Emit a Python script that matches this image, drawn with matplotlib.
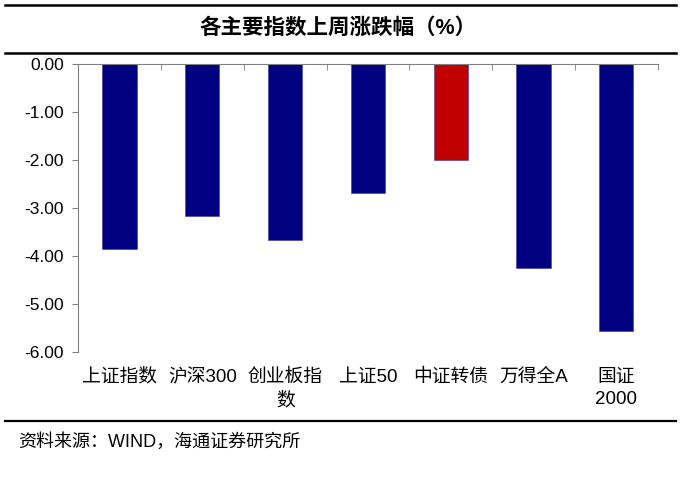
import numpy as np
import matplotlib
matplotlib.use('Agg')
from matplotlib import pyplot as plt
from matplotlib.lines import Line2D

plt.rcParams['font.family'] = ['Liberation Sans', 'Noto Sans CJK SC']
plt.rcParams['axes.unicode_minus'] = False

# data
categories = ['上证指数', '沪深300', '创业板指\n数', '上证50', '中证转债', '万得全A', '国证\n2000']
changes = [-3.85, -3.18, -3.68, -2.69, -2.00, -4.26, -5.57]
bar_colors = ['#000080', '#000080', '#000080', '#000080', '#C00000', '#000080', '#000080']
yticks = [0, -1, -2, -3, -4, -5, -6]

fig = plt.figure(figsize=(6.81, 4.82), dpi=100)
ax = fig.add_axes([78.1 / 681, 1 - 351.7 / 482, 579.6 / 681, 287.7 / 482])

x = np.arange(len(categories))
ax.bar(x, changes, width=0.415, color=bar_colors, edgecolor='#3a3aa0', linewidth=0.4)

ax.set_xlim(-0.5, len(categories) - 0.5)
ax.set_ylim(-6, 0)
ax.set_yticks(yticks)
ax.set_yticklabels(['%.2f' % v for v in yticks], fontsize=12.5)

ax.set_xticks(x)
ax.set_xticklabels(categories, fontsize=13.5, linespacing=1.45)
ax.set_xticks(np.arange(len(categories) + 1) - 0.5, minor=True)
ax.tick_params(axis='x', which='major', length=0, pad=12)
ax.tick_params(axis='x', which='minor', bottom=False, top=True, direction='in',
               length=4, color='#808080')
ax.tick_params(axis='y', direction='out', length=4, color='#808080', pad=6)

for s in ['right', 'bottom']:
    ax.spines[s].set_visible(False)
ax.spines['left'].set_color('#808080')
ax.spines['top'].set_color('#808080')

# header / footer rules and texts
fig.add_artist(Line2D([0.007, 0.993], [1 - 5 / 482, 1 - 5 / 482], color='black', lw=1.8))
fig.add_artist(Line2D([0.007, 0.993], [1 - 52.7 / 482, 1 - 52.7 / 482], color='black', lw=1.8))
fig.add_artist(Line2D([0.007, 0.993], [1 - 421 / 482, 1 - 421 / 482], color='black', lw=1.6))
fig.text(338 / 681, 1 - 28 / 482, '各主要指数上周涨跌幅（%）', ha='center', va='center',
         fontsize=15.5, fontweight='bold')
fig.text(18 / 681, 1 - 441.5 / 482, '资料来源：WIND，海通证券研究所', ha='left', va='center',
         fontsize=13)

fig.savefig('out.png', dpi=100)
